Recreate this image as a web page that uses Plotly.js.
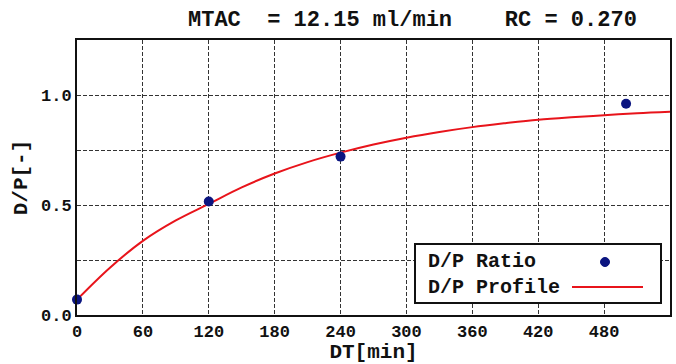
<!DOCTYPE html>
<html>
<head>
<meta charset="utf-8">
<script src="https://cdn.plot.ly/plotly-3.0.1.min.js"></script>
<style>html,body{margin:0;padding:0;background:#fff;}#chart{width:676px;height:364px;}</style>
</head>
<body>
<div id="chart"></div>
<script>
// Measured D/P ratio points
const ratioTime = [0, 120, 240, 500];
const ratioValue = [0.07, 0.516, 0.72, 0.96];

// D/P profile curve
const profileTime = [0, 30, 60, 90, 120, 150, 180, 210, 240, 270, 300, 330, 360, 390, 420, 450, 480, 510, 540];
const profileValue = [0.07, 0.215, 0.337, 0.43, 0.505, 0.58, 0.643, 0.695, 0.738, 0.775, 0.806, 0.832, 0.854, 0.872, 0.888, 0.899, 0.908, 0.917, 0.924];

const xTicks = [0, 60, 120, 180, 240, 300, 360, 420, 480, 540];
const yTickVals = [0, 0.25, 0.5, 0.75, 1.0];
const yTickText = ['0.0', '', '0.5', '', '1.0'];

const titleText = 'MTAC  = 12.15 ml/min    RC = 0.270';
const legendNames = ['D/P Ratio', 'D/P Profile'];

const mono = 'Liberation Mono, Courier New, monospace';
const markerColor = '#0b1580';
const lineColor = '#e8141b';

const traces = [
  {
    x: profileTime, y: profileValue, type: 'scatter', mode: 'lines',
    line: {color: lineColor, width: 2, shape: 'spline'},
    name: legendNames[1], showlegend: false, hoverinfo: 'skip'
  },
  {
    x: ratioTime, y: ratioValue, type: 'scatter', mode: 'markers',
    marker: {color: markerColor, size: 10},
    name: legendNames[0], showlegend: false, cliponaxis: false
  }
];

const layout = {
  width: 676, height: 364,
  margin: {l: 77, r: 6, t: 40, b: 49},
  paper_bgcolor: '#ffffff', plot_bgcolor: '#ffffff',
  showlegend: false,
  title: {
    text: titleText,
    font: {family: mono, size: 22, color: '#111', weight: 700},
    xref: 'container', yref: 'container',
    x: 188 / 676, xanchor: 'left',
    y: 1 - 18 / 364, yanchor: 'middle'
  },
  xaxis: {
    range: [0, 540], tickvals: xTicks,
    showgrid: true, gridcolor: '#333', gridwidth: 1, griddash: '4px,2px',
    showline: true, mirror: true, linecolor: '#111', linewidth: 2,
    zeroline: false, ticks: '', ticklen: 0,
    tickfont: {family: mono, size: 17, color: '#111', weight: 700},
    title: {text: 'DT[min]', font: {family: mono, size: 21, color: '#111', weight: 700}, standoff: 6}
  },
  yaxis: {
    range: [0, 1.25], tickvals: yTickVals, ticktext: yTickText,
    showgrid: true, gridcolor: '#333', gridwidth: 1, griddash: '4px,2px',
    showline: true, mirror: true, linecolor: '#111', linewidth: 2,
    zeroline: false, ticks: '', ticklen: 0,
    tickfont: {family: mono, size: 17, color: '#111', weight: 700},
    title: {text: 'D/P[-]', font: {family: mono, size: 21, color: '#111', weight: 700}, standoff: 8}
  },
  shapes: [
    {type: 'rect', xref: 'paper', yref: 'paper',
     x0: (415 - 77) / 593, x1: (661 - 77) / 593, y0: (315 - 303) / 275, y1: (315 - 244) / 275,
     line: {color: '#111', width: 2}, fillcolor: '#ffffff', layer: 'above'},
    {type: 'line', xref: 'paper', yref: 'paper',
     x0: (572 - 77) / 593, x1: (643 - 77) / 593, y0: (315 - 287) / 275, y1: (315 - 287) / 275,
     line: {color: lineColor, width: 2}, layer: 'above'},
    {type: 'circle', xref: 'paper', yref: 'paper',
     x0: (600.5 - 77) / 593, x1: (609.5 - 77) / 593, y0: (315 - 266.5) / 275, y1: (315 - 257.5) / 275,
     line: {color: markerColor, width: 1}, fillcolor: markerColor, layer: 'above'}
  ],
  annotations: [
    {text: legendNames[0], xref: 'paper', yref: 'paper', x: (426 - 77) / 593, y: (315 - 261) / 275,
     xanchor: 'left', yanchor: 'middle', showarrow: false,
     font: {family: mono, size: 20, color: '#111', weight: 700}},
    {text: legendNames[1], xref: 'paper', yref: 'paper', x: (426 - 77) / 593, y: (315 - 287) / 275,
     xanchor: 'left', yanchor: 'middle', showarrow: false,
     font: {family: mono, size: 20, color: '#111', weight: 700}}
  ]
};

Plotly.newPlot('chart', traces, layout, {displayModeBar: false, staticPlot: true});
</script>
</body>
</html>
